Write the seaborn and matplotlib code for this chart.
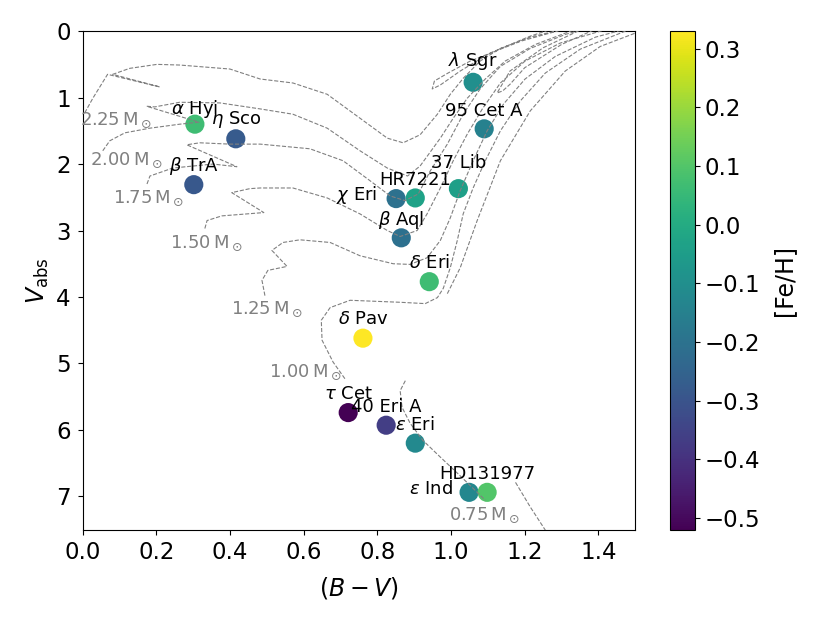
import numpy as np
import pandas as pd
import matplotlib
matplotlib.use('Agg')
from matplotlib import pyplot as plt
import matplotlib.colors as mcolors
import seaborn as sns

# stars
names = [r'$\alpha$ Hyi', r'$\eta$ Sco', r'$\beta$ TrA', r'$\lambda$ Sgr', '95 Cet A',
         '37 Lib', r'$\chi$ Eri', 'HR7221', r'$\beta$ Aql', r'$\delta$ Eri',
         r'$\delta$ Pav', r'$\tau$ Cet', '40 Eri A', r'$\varepsilon$ Eri',
         r'$\varepsilon$ Ind', 'HD131977']
bv = [0.305, 0.416, 0.302, 1.060, 1.090, 1.020, 0.851, 0.903, 0.865, 0.941,
      0.761, 0.721, 0.824, 0.903, 1.049, 1.098]
vabs = [1.40, 1.62, 2.31, 0.77, 1.47, 2.37, 2.52, 2.51, 3.11, 3.77,
        4.62, 5.74, 5.93, 6.20, 6.94, 6.94]
feh = [0.065, -0.28, -0.29, -0.10, -0.15, -0.045, -0.205, -0.03, -0.21, 0.065,
       0.33, -0.52, -0.365, -0.12, -0.125, 0.10]

# evolutionary tracks (B-V, Vabs)
t225_x = [0.006, 0.028, 0.068, 0.210, 0.082, 0.128, 0.202, 0.264, 0.400, 0.482, 0.571,
          0.664, 0.753, 0.827, 0.870, 0.916, 0.963, 0.998, 1.033, 1.079, 1.134, 1.215,
          1.283, 1.32, 1.19, 1.052, 0.992, 0.955, 0.949, 0.971, 1.025, 1.106, 1.215, 1.30]
t225_y = [1.23, 1.01, 0.65, 0.84, 0.65, 0.56, 0.50, 0.51, 0.57, 0.72, 0.78,
          0.95, 1.31, 1.61, 1.68, 1.56, 1.25, 0.95, 0.71, 0.45, 0.26, 0.09,
          0.00, -0.05, 0.15, 0.45, 0.63, 0.75, 0.87, 0.81, 0.60, 0.33, 0.075, -0.08]
t200_x = [0.055, 0.074, 0.115, 0.183, 0.264, 0.316, 0.174, 0.196, 0.264, 0.373, 0.482,
          0.571, 0.664, 0.753, 0.827, 0.882, 0.916, 0.971, 1.006, 1.044, 1.093, 1.147,
          1.229, 1.324, 1.378, 1.25, 1.16, 1.125, 1.14, 1.16, 1.20, 1.30, 1.40]
t200_y = [1.80, 1.65, 1.53, 1.46, 1.40, 1.37, 1.13, 1.14, 1.07, 1.08, 1.17,
          1.25, 1.46, 1.80, 2.06, 2.18, 2.03, 1.61, 1.31, 1.01, 0.72, 0.45,
          0.20, 0.00, -0.09, 0.25, 0.60, 0.93, 0.90, 0.80, 0.55, 0.20, -0.05]
t175_x = [0.175, 0.183, 0.245, 0.354, 0.419, 0.283, 0.318, 0.400, 0.482, 0.617, 0.707,
          0.780, 0.835, 0.875, 0.911, 0.944, 0.990, 1.033, 1.079, 1.134, 1.215, 1.310, 1.378]
t175_y = [2.30, 2.18, 2.06, 2.00, 2.04, 1.71, 1.68, 1.70, 1.70, 1.77, 1.95,
          2.25, 2.48, 2.55, 2.45, 2.10, 1.70, 1.25, 0.87, 0.53, 0.26, 0.05, -0.06]
t150_x = [0.332, 0.338, 0.378, 0.492, 0.405, 0.454, 0.482, 0.571, 0.664, 0.753, 0.827,
          0.862, 0.908, 0.935, 0.971, 1.006, 1.044, 1.085, 1.134, 1.201, 1.296, 1.405, 1.46]
t150_y = [2.97, 2.85, 2.78, 2.73, 2.43, 2.37, 2.36, 2.36, 2.51, 2.75, 3.00,
          3.09, 3.00, 2.75, 2.36, 1.95, 1.55, 1.17, 0.78, 0.45, 0.18, 0.00, -0.08]
t125_x = [0.495, 0.487, 0.503, 0.555, 0.514, 0.544, 0.590, 0.672, 0.753, 0.843, 0.889,
          0.935, 0.971, 0.998, 1.025, 1.060, 1.098, 1.142, 1.201, 1.283, 1.392, 1.473]
t125_y = [3.98, 3.75, 3.60, 3.54, 3.30, 3.18, 3.14, 3.18, 3.38, 3.50, 3.51,
          3.41, 3.15, 2.81, 2.40, 1.95, 1.50, 1.10, 0.72, 0.38, 0.09, -0.03]
t100_x = [0.712, 0.680, 0.650, 0.648, 0.672, 0.726, 0.862, 0.930, 0.963, 0.979, 0.998,
          1.017, 1.033, 1.060, 1.093, 1.134, 1.188, 1.256, 1.351, 1.473, 1.53]
t100_y = [5.23, 4.98, 4.65, 4.35, 4.16, 4.05, 4.08, 4.10, 4.01, 3.87, 3.56,
          3.15, 2.75, 2.36, 1.95, 1.50, 1.05, 0.63, 0.27, 0.00, -0.08]
t100b_x = [0.990, 1.025, 1.071, 1.134, 1.215, 1.310, 1.405, 1.514]
t100b_y = [3.95, 3.56, 2.85, 1.95, 1.20, 0.60, 0.23, 0.00]
t075_x = [1.175, 1.215, 1.256, 1.27]
t075_y = [6.79, 7.16, 7.51, 7.66]
lms_x = [0.876, 0.862, 0.867, 0.889, 0.924, 0.971, 1.017, 1.060, 1.093]
lms_y = [5.26, 5.41, 5.66, 5.90, 6.16, 6.41, 6.65, 6.88, 7.06]

# track labels: mass, right edge x, baseline y
masses = [2.25, 2.00, 1.75, 1.50, 1.25, 1.00, 0.75]
mlab_x = [0.188, 0.218, 0.275, 0.433, 0.598, 0.704, 1.188]
mlab_y = [1.41, 2.01, 2.58, 3.26, 4.26, 5.21, 7.36]

df = pd.DataFrame({'name': names, 'bv': bv, 'vabs': vabs, 'feh': feh})
norm = mcolors.Normalize(vmin=min(feh), vmax=max(feh))

fig = plt.figure(figsize=(8.3, 6.23), dpi=100)
ax = fig.add_axes([0.0994, 0.150, 0.666, 0.800])
cax = fig.add_axes([0.807, 0.150, 0.030, 0.800])

sns.scatterplot(data=df, x='bv', y='vabs', hue='feh', palette='viridis', hue_norm=norm,
                s=190, edgecolor='none', linewidth=0, legend=False, zorder=2, ax=ax)

tracks = [(t225_x, t225_y), (t200_x, t200_y), (t175_x, t175_y), (t150_x, t150_y),
          (t125_x, t125_y), (t100_x, t100_y), (t100b_x, t100b_y), (t075_x, t075_y),
          (lms_x, lms_y)]
for tx, ty in tracks:
    sns.lineplot(x=tx, y=ty, sort=False, estimator=None, color='gray', linestyle='--',
                 linewidth=0.8, zorder=3, ax=ax)

for m, lx, ly in zip(masses, mlab_x, mlab_y):
    ax.text(lx, ly, f'{m:.2f}' + r'$\,\mathrm{M}_\odot$', color='gray', fontsize=13,
            ha='right', va='baseline', zorder=4)

# label offsets in points (default: centred above)
special = {r'$\alpha$ Hyi': (0, 7.5, 'center'), '37 Lib': (0, 15, 'center'),
           r'$\eta$ Sco': (0, 10.5, 'center'), r'$\lambda$ Sgr': (0, 11.5, 'center'),
           r'$\delta$ Pav': (0, 10.5, 'center'),
           r'$\chi$ Eri': (-13.5, -1, 'right'), r'$\varepsilon$ Ind': (-11.5, -1.5, 'right')}
for _, r in df.iterrows():
    dx, dy, ha = special.get(r['name'], (0, 9.5, 'center'))
    ax.annotate(r['name'], (r['bv'], r['vabs']), xytext=(dx, dy), textcoords='offset points',
                ha=ha, va='baseline', fontsize=13, zorder=5)

ax.set_xlim(0, 1.5)
ax.set_ylim(7.5, 0)
ax.set_xticks(np.arange(0, 1.41, 0.2))
ax.set_yticks(range(0, 8))
ax.tick_params(labelsize=16.5, pad=5)
ax.set_xlabel(r'$(B-V)$', fontsize=17, labelpad=8)
ax.set_ylabel(r'$V_{\rm abs}$', fontsize=17)

sm = plt.cm.ScalarMappable(norm=norm, cmap='viridis')
cb = fig.colorbar(sm, cax=cax)
cb.set_ticks(np.arange(-0.5, 0.31, 0.1))
cb.ax.tick_params(labelsize=16.5)
cb.set_label('[Fe/H]', fontsize=17, labelpad=9)

fig.savefig('out.png', dpi=100)
